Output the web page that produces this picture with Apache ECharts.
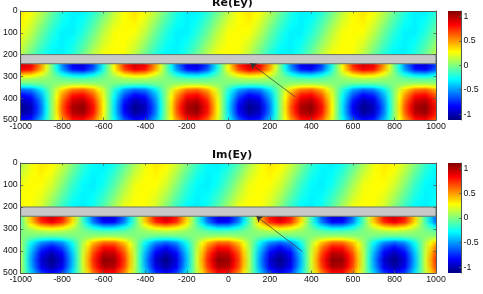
<!DOCTYPE html>
<html>
<head>
<meta charset="utf-8">
<style>html,body{margin:0;padding:0;background:#fff}#chart{width:483px;height:294px}</style>
<script src="https://cdn.jsdelivr.net/npm/echarts@6/dist/echarts.min.js"></script>
</head>
<body>
<div id="chart"></div>
<script>
// Depth of each sampled row; the columns run from -1000 to 1000 in steps of 50.
const depths = [0, 100, 200, 240, 250, 270, 290, 310, 330, 345, 360, 380, 410, 440, 470, 500];
const xTicks = [-1000, 1000];
const colorbarTicks = [-1, -0.5, 0, 0.5, 1];
const colorRange = [-1.12, 1.11];
const slab = [200, 242];
const titles = ['Re(Ey)', 'Im(Ey)'];
const arrowRe = [[322, 394], [106, 240]];
const arrowIm = [[356, 402], [135, 242]];

// Real part of Ey, hundredths, one line per depth.
const fieldRe = [
[34,27,13,-5,-21,-31,-31,-21,-5,13,27,34,27,13,-5,-21,-31,-31,-21,-5,13,27,34,27,13,-5,-21,-31,-31,-21,-5,13,27,34,27,13,-5,-21,-31,-31,-21],
[26,13,-5,-21,-31,-31,-21,-5,13,26,28,26,13,-5,-21,-31,-31,-21,-5,13,26,28,26,13,-5,-21,-31,-31,-21,-5,13,26,28,26,13,-5,-21,-31,-31,-21,-5],
[13,-5,-21,-31,-31,-21,-5,13,26,28,26,13,-5,-21,-31,-31,-21,-5,13,26,28,26,13,-5,-21,-31,-31,-21,-5,13,26,28,26,13,-5,-21,-31,-31,-21,-5,13],
[79,72,42,-2,-46,-74,-78,-59,-20,25,62,79,72,42,-2,-46,-74,-78,-59,-20,25,62,79,72,42,-2,-46,-74,-78,-59,-20,25,62,79,72,42,-2,-46,-74,-78,-59],
[94,86,49,-3,-54,-87,-93,-70,-24,29,74,94,86,49,-3,-54,-87,-93,-70,-24,29,74,94,86,49,-3,-54,-87,-93,-70,-24,29,74,94,86,49,-3,-54,-87,-93,-70],
[84,77,44,-3,-48,-78,-83,-63,-21,26,66,84,77,44,-3,-48,-78,-83,-63,-21,26,66,84,77,44,-3,-48,-78,-83,-63,-21,26,66,84,77,44,-3,-48,-78,-83,-63],
[45,41,23,-1,-26,-41,-44,-33,-11,14,35,45,41,23,-1,-26,-41,-44,-33,-11,14,35,45,41,23,-1,-26,-41,-44,-33,-11,14,35,45,41,23,-1,-26,-41,-44,-33],
[12,11,6,0,-7,-11,-12,-9,-3,4,9,12,11,6,0,-7,-11,-12,-9,-3,4,9,12,11,6,0,-7,-11,-12,-9,-3,4,9,12,11,6,0,-7,-11,-12,-9],
[-3,-3,-2,0,2,3,3,2,1,-1,-2,-3,-3,-2,0,2,3,3,2,1,-1,-2,-3,-3,-2,0,2,3,3,2,1,-1,-2,-3,-3,-2,0,2,3,3,2],
[-25,-23,-13,1,14,23,25,19,6,-8,-20,-25,-23,-13,1,14,23,25,19,6,-8,-20,-25,-23,-13,1,14,23,25,19,6,-8,-20,-25,-23,-13,1,14,23,25,19],
[-59,-54,-31,2,34,55,59,44,15,-19,-47,-59,-54,-31,2,34,55,59,44,15,-19,-47,-59,-54,-31,2,34,55,59,44,15,-19,-47,-59,-54,-31,2,34,55,59,44],
[-79,-72,-42,2,46,74,78,59,20,-25,-62,-79,-72,-42,2,46,74,78,59,20,-25,-62,-79,-72,-42,2,46,74,78,59,20,-25,-62,-79,-72,-42,2,46,74,78,59],
[-99,-90,-52,3,57,92,98,74,25,-31,-78,-99,-90,-52,3,57,92,98,74,25,-31,-78,-99,-90,-52,3,57,92,98,74,25,-31,-78,-99,-90,-52,3,57,92,98,74],
[-109,-99,-57,3,63,101,108,81,28,-34,-86,-109,-99,-57,3,63,101,108,81,28,-34,-86,-109,-99,-57,3,63,101,108,81,28,-34,-86,-109,-99,-57,3,63,101,108,81],
[-104,-95,-55,3,60,97,103,78,26,-33,-82,-104,-95,-55,3,60,97,103,78,26,-33,-82,-104,-95,-55,3,60,97,103,78,26,-33,-82,-104,-95,-55,3,60,97,103,78],
[-84,-77,-44,3,48,78,83,63,21,-26,-66,-84,-77,-44,3,48,78,83,63,21,-26,-66,-84,-77,-44,3,48,78,83,63,21,-26,-66,-84,-77,-44,3,48,78,83,63]
];

// Imaginary part of Ey, hundredths, one line per depth.
const fieldIm = [
[8,24,33,30,18,1,-17,-29,-32,-25,-10,8,24,33,30,18,1,-17,-29,-32,-25,-10,8,24,33,30,18,1,-17,-29,-32,-25,-10,8,24,33,30,18,1,-17,-29],
[24,28,27,18,1,-17,-29,-32,-25,-10,8,24,28,27,18,1,-17,-29,-32,-25,-10,8,24,28,27,18,1,-17,-29,-32,-25,-10,8,24,28,27,18,1,-17,-29,-32],
[28,27,18,1,-17,-29,-32,-25,-10,8,24,28,27,18,1,-17,-29,-32,-25,-10,8,24,28,27,18,1,-17,-29,-32,-25,-10,8,24,28,27,18,1,-17,-29,-32,-25],
[-10,35,68,80,66,31,-14,-54,-78,-76,-51,-10,35,68,80,66,31,-14,-54,-78,-76,-51,-10,35,68,80,66,31,-14,-54,-78,-76,-51,-10,35,68,80,66,31,-14,-54],
[-11,42,81,95,79,37,-16,-64,-92,-90,-61,-11,42,81,95,79,37,-16,-64,-92,-90,-61,-11,42,81,95,79,37,-16,-64,-92,-90,-61,-11,42,81,95,79,37,-16,-64],
[-10,37,72,85,71,33,-14,-57,-82,-81,-54,-10,37,72,85,71,33,-14,-57,-82,-81,-54,-10,37,72,85,71,33,-14,-57,-82,-81,-54,-10,37,72,85,71,33,-14,-57],
[-5,20,38,45,37,18,-8,-30,-44,-43,-29,-5,20,38,45,37,18,-8,-30,-44,-43,-29,-5,20,38,45,37,18,-8,-30,-44,-43,-29,-5,20,38,45,37,18,-8,-30],
[-1,5,10,12,10,5,-2,-8,-12,-11,-8,-1,5,10,12,10,5,-2,-8,-12,-11,-8,-1,5,10,12,10,5,-2,-8,-12,-11,-8,-1,5,10,12,10,5,-2,-8],
[0,-1,-3,-3,-2,-1,1,2,3,3,2,0,-1,-3,-3,-2,-1,1,2,3,3,2,0,-1,-3,-3,-2,-1,1,2,3,3,2,0,-1,-3,-3,-2,-1,1,2],
[3,-11,-21,-25,-21,-10,4,17,24,24,16,3,-11,-21,-25,-21,-10,4,17,24,24,16,3,-11,-21,-25,-21,-10,4,17,24,24,16,3,-11,-21,-25,-21,-10,4,17],
[7,-26,-51,-60,-50,-23,10,40,58,57,38,7,-26,-51,-60,-50,-23,10,40,58,57,38,7,-26,-51,-60,-50,-23,10,40,58,57,38,7,-26,-51,-60,-50,-23,10,40],
[10,-35,-68,-80,-66,-31,14,54,78,76,51,10,-35,-68,-80,-66,-31,14,54,78,76,51,10,-35,-68,-80,-66,-31,14,54,78,76,51,10,-35,-68,-80,-66,-31,14,54],
[12,-44,-85,-100,-83,-39,17,67,97,95,64,12,-44,-85,-100,-83,-39,17,67,97,95,64,12,-44,-85,-100,-83,-39,17,67,97,95,64,12,-44,-85,-100,-83,-39,17,67],
[13,-48,-94,-110,-91,-43,19,74,107,105,70,13,-48,-94,-110,-91,-43,19,74,107,105,70,13,-48,-94,-110,-91,-43,19,74,107,105,70,13,-48,-94,-110,-91,-43,19,74],
[13,-46,-89,-105,-87,-41,18,70,102,100,67,13,-46,-89,-105,-87,-41,18,70,102,100,67,13,-46,-89,-105,-87,-41,18,70,102,100,67,13,-46,-89,-105,-87,-41,18,70],
[10,-37,-72,-85,-71,-33,14,57,82,81,54,10,-37,-72,-85,-71,-33,14,57,82,81,54,10,-37,-72,-85,-71,-33,14,57,82,81,54,10,-37,-72,-85,-71,-33,14,57]
];

// Jet colormap anchors: position along the range, then r, g, b.
const jet = [[0,0,0,127],[0.125,0,0,255],[0.375,0,255,255],[0.625,255,255,0],[0.875,255,0,0],[1,127,0,0]];

function jetColor(v) {
  const t = Math.min(1, Math.max(0, (v - colorRange[0]) / (colorRange[1] - colorRange[0])));
  for (let i = 1; i < jet.length; i++) {
    if (t <= jet[i][0]) {
      const a = jet[i - 1], b = jet[i], f = (t - a[0]) / (b[0] - a[0]);
      return 'rgb(' + [1, 2, 3].map(k => Math.round(a[k] + (b[k] - a[k]) * f)).join(',') + ')';
    }
  }
  return 'rgb(127,0,0)';
}

// Paints the band between one depth row and the next, one pixel line at a time,
// each line as a left-to-right gradient coloured through the jet map.
function fieldRenderer(field) {
  return function (params, api) {
    const i = params.dataIndex;
    if (i >= field.length - 1) return { type: 'group', children: [] };
    const top = api.coord([xTicks[0], depths[i]]);
    const bottom = api.coord([xTicks[1], depths[i + 1]]);
    const x0 = top[0], x1 = bottom[0], y0 = top[1], y1 = bottom[1];
    const upper = field[i], lower = field[i + 1], n = upper.length - 1;
    const children = [];
    for (let py = Math.round(y0); py < Math.round(y1); py++) {
      const f = Math.min(1, Math.max(0, (py + 0.5 - y0) / (y1 - y0)));
      const stops = [];
      for (let c = 0; c < n; c++) {
        const a = (upper[c] + (lower[c] - upper[c]) * f) / 100;
        const b = (upper[c + 1] + (lower[c + 1] - upper[c + 1]) * f) / 100;
        stops.push({ offset: c / n, color: jetColor(a) });
        stops.push({ offset: (c + 0.5) / n, color: jetColor((a + b) / 2) });
      }
      stops.push({ offset: 1, color: jetColor((upper[n] + (lower[n] - upper[n]) * f) / 100) });
      children.push({
        type: 'rect',
        shape: { x: x0, y: py, width: x1 - x0, height: 1 },
        style: { fill: new echarts.graphic.LinearGradient(0, 0, 1, 0, stops) },
        silent: true
      });
    }
    return { type: 'group', children };
  };
}

// Vertical jet ramp filling the colour bar.
function colorbarRenderer(params, api) {
  const a = api.coord([0, colorRange[0]]);
  const b = api.coord([1, colorRange[1]]);
  return {
    type: 'rect',
    shape: { x: a[0], y: b[1], width: b[0] - a[0], height: a[1] - b[1] },
    style: {
      fill: new echarts.graphic.LinearGradient(0, 1, 0, 0,
        jet.map(s => ({ offset: s[0], color: 'rgb(' + s[1] + ',' + s[2] + ',' + s[3] + ')' })))
    },
    silent: true
  };
}

const FONT = 'Liberation Sans';
const AXIS = '#4f5a55';
const panels = [
  { top: 11, height: 109, field: fieldRe, arrow: arrowRe },
  { top: 163, height: 110, field: fieldIm, arrow: arrowIm }
];

const grid = [], xAxis = [], yAxis = [], series = [], title = [];
const line = { show: true, onZero: false, lineStyle: { color: AXIS, width: 1 } };
const ticks = { show: true, inside: true, length: 2.5, lineStyle: { color: AXIS, width: 0.8 } };
const labels = { color: '#111', fontFamily: FONT, fontSize: 8.8 };

panels.forEach((p, k) => {
  grid.push({ left: 20, width: 416, top: p.top, height: p.height });
  grid.push({ left: 448, width: 13.5, top: p.top, height: p.height });
  const g = k * 2, c = g + 1, ax = xAxis.length, ay = yAxis.length;

  // Field axes, boxed on all four sides.
  const xBase = { gridIndex: g, type: 'value', min: xTicks[0], max: xTicks[1], interval: 200, z: 10, splitLine: { show: false }, axisLine: line, axisTick: ticks };
  xAxis.push(Object.assign({}, xBase, { position: 'bottom', axisLabel: Object.assign({ margin: 2, hideOverlap: false, formatter: v => String(v) }, labels) }));
  xAxis.push(Object.assign({}, xBase, { position: 'top', axisLabel: { show: false } }));
  const yBase = { gridIndex: g, type: 'value', inverse: true, min: 0, max: 500, interval: 100, z: 10, splitLine: { show: false }, axisLine: line, axisTick: ticks };
  yAxis.push(Object.assign({}, yBase, { position: 'left', axisLabel: Object.assign({ margin: 3 }, labels) }));
  yAxis.push(Object.assign({}, yBase, { position: 'right', axisLabel: { show: false } }));

  // Colour bar axes.
  xAxis.push({ gridIndex: c, type: 'value', min: 0, max: 1, show: false });
  yAxis.push({
    gridIndex: c, type: 'value', position: 'right', min: colorRange[0], max: colorRange[1], z: 10,
    splitLine: { show: false }, axisLine: line,
    axisTick: Object.assign({}, ticks, { customValues: colorbarTicks }),
    axisLabel: Object.assign({ margin: 2, customValues: colorbarTicks }, labels)
  });

  series.push({
    type: 'custom', xAxisIndex: ax, yAxisIndex: ay, z: 2, clip: true,
    renderItem: fieldRenderer(p.field),
    encode: { x: 1, y: 0 },
    data: depths.map((d, i) => [d].concat(p.field[i])),
    markArea: {
      silent: true, z: 4,
      itemStyle: { color: '#c8c8c8', borderColor: '#66756c', borderWidth: 1 },
      data: [[{ xAxis: xTicks[0], yAxis: slab[0] }, { xAxis: xTicks[1], yAxis: slab[1] }]]
    },
    markLine: {
      silent: true, z: 5, symbol: ['none', 'arrow'], symbolSize: 6,
      label: { show: false },
      lineStyle: { color: '#333', width: 0.7, type: 'solid' },
      data: [[{ coord: p.arrow[0] }, { coord: p.arrow[1] }]]
    }
  });
  series.push({
    type: 'custom', xAxisIndex: ax + 2, yAxisIndex: ay + 2, z: 2,
    renderItem: colorbarRenderer, encode: { x: 0, y: 1 }, data: [[0, colorRange[0]]]
  });

  title.push({
    text: titles[k], left: 207, top: p.top - 18,
    textStyle: { fontFamily: 'DejaVu Sans', fontWeight: 'bold', fontSize: 11, color: '#111' }
  });
});

const chart = echarts.init(document.getElementById('chart'), null, { renderer: 'canvas' });
chart.setOption({ animation: false, backgroundColor: '#fff', title, grid, xAxis, yAxis, series });
</script>
</body>
</html>
